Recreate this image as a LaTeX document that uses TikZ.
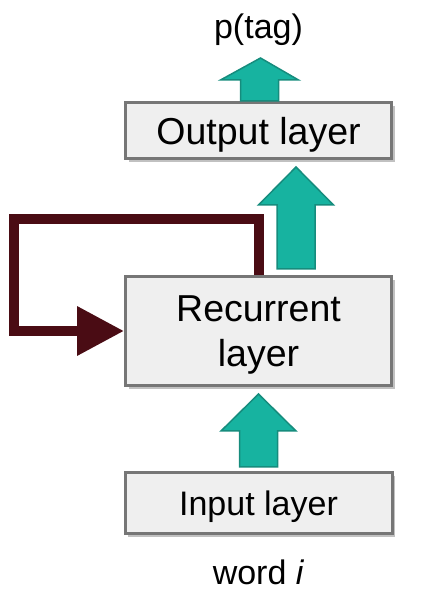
\documentclass[tikz,border=0pt]{standalone}
\usepackage{fontspec}
\setmainfont{Liberation Sans}
\usepackage{tikz}
\usetikzlibrary{positioning,calc,shadows,arrows.meta}

\definecolor{boxfill}{HTML}{EFEFEF}
\definecolor{boxline}{HTML}{767676}
\definecolor{tealfill}{HTML}{17B3A0}
\definecolor{tealline}{HTML}{168C7D}
\definecolor{loopred}{HTML}{4A0C14}

\tikzset{
  layerbox/.style={draw=boxline, line width=3pt, fill=boxfill, inner sep=0pt,
    minimum width=266pt, align=center, text depth=0pt,
    drop shadow={shadow xshift=3pt, shadow yshift=-4pt, opacity=0.35, fill=black!70},
    font=\fontsize{37.5}{45}\selectfont},
  labeltext/.style={inner sep=0pt, font=\fontsize{34}{40}\selectfont},
  blockarrow/.style={fill=tealfill, draw=tealline, line width=1.5pt, line join=miter},
  loopline/.style={draw=loopred, line width=10pt, -{Triangle[length=47pt,width=47pt]}}
}

% freccia a blocco: base, punta, lunghezza testa, mezza larghezza testa
\newcommand{\blockup}[4]{%
  \filldraw[blockarrow] let \p1=#1, \p2=#2 in
    (\x1-19pt,\y1) -- (\x1-19pt,\y2-#3) -- (\x1-#4,\y2-#3) -- (\x2,\y2)
    -- (\x1+#4,\y2-#3) -- (\x1+19pt,\y2-#3) -- (\x1+19pt,\y1) -- cycle;}

\begin{document}
\begin{tikzpicture}[x=1pt, y=1pt]
  \useasboundingbox (0,0) rectangle (438,610);

  % Blocchi principali
  \node [layerbox, minimum height=109pt] (rec) at (258.5,279) {Recurrent\\layer};
  \node [layerbox, minimum height=56pt, above=115pt of rec] (out) {Output layer};
  \node [layerbox, minimum height=61pt, minimum width=267pt,
         font=\fontsize{34}{40}\selectfont, below=84pt of rec] (inp) {Input layer};

  % Etichette
  \node [labeltext, above=55pt of out] (tag) {p(tag)};
  \node [labeltext, below=25pt of inp] (word) {word \textit{i}};

  % Frecce verso l'alto
  \blockup{($(inp.north)+(0,4)$)}{($(rec.south)+(0,-7)$)}{37pt}{37.5pt}
  \blockup{($(rec.north)+(37.5,6)$)}{($(out.south)+(37.5,-7)$)}{38pt}{37.5pt}
  \blockup{($(out.north)+(1,0)$)}{($(tag.south)+(2,-12)$)}{22pt}{39pt}

  % Ciclo ricorrente
  \coordinate (corner) at (14,391);
  \draw [loopline] (rec.north) |- (corner) |- (rec.west);
\end{tikzpicture}
\end{document}
